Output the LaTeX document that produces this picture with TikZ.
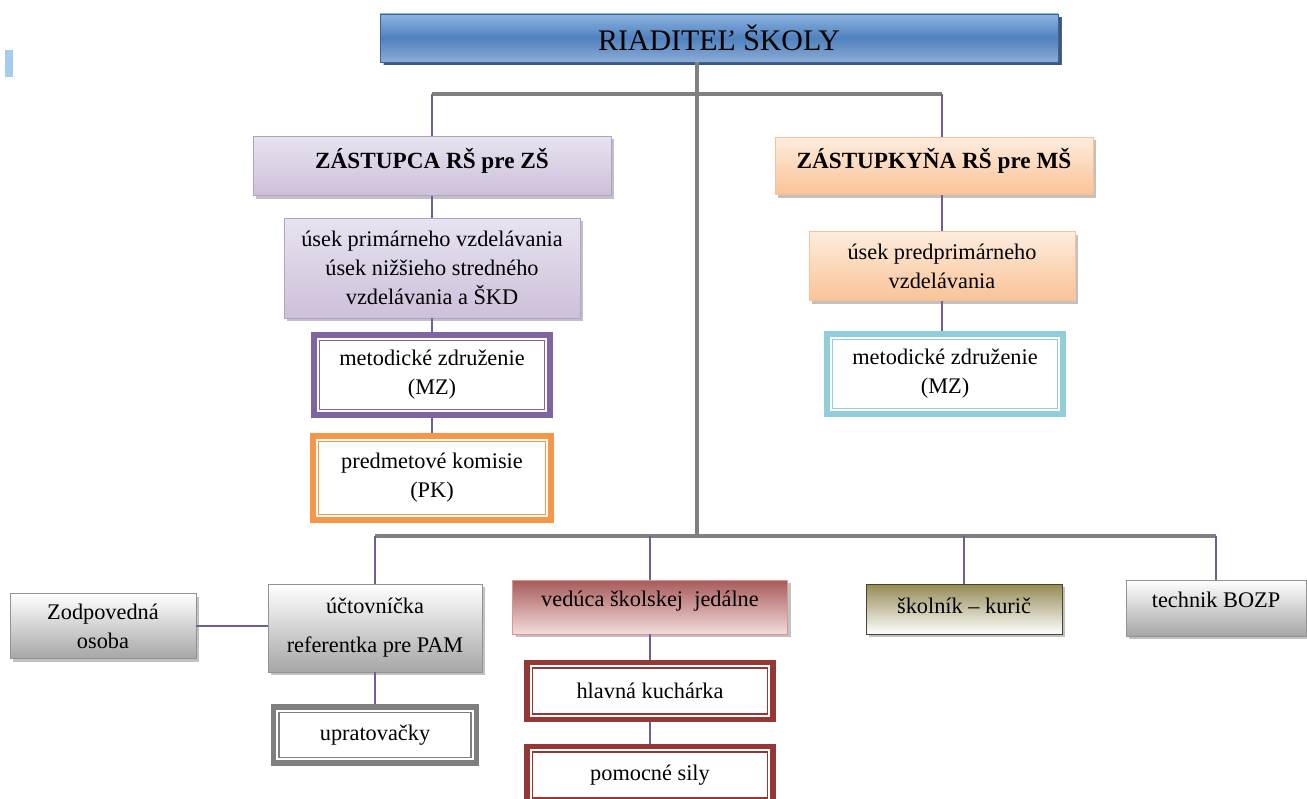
\documentclass[tikz,border=0pt]{standalone}
\usepackage{fontspec}
\setmainfont{Liberation Serif}
\usetikzlibrary{shadows}
\definecolor{smallblue}{HTML}{A6CBF0}
\definecolor{linegray}{HTML}{808080}
\definecolor{linkpurple}{HTML}{725D96}
\definecolor{mzpurple}{HTML}{8064A2}
\definecolor{pkorange}{HTML}{F79646}
\definecolor{mzblue}{HTML}{92CDDC}
\definecolor{uprgray}{HTML}{7F7F7F}
\definecolor{kuchred}{HTML}{953735}
\tikzset{
  sz/.style 2 args={minimum width=#1*0.2mm, minimum height=#2*0.2mm},
  box/.style={rectangle, align=center, inner sep=0pt,
    font=\fontsize{12.7}{16.5}\selectfont,
    drop shadow={shadow xshift=0.6mm, shadow yshift=-0.6mm, opacity=0.35, fill=black!70}},
  dbl/.style={rectangle, align=center, inner sep=0pt, fill=white,
    font=\fontsize{12.7}{16.5}\selectfont, draw=#1, line width=1.1mm,
    path picture={\draw[#1, line width=0.25mm]
      ([shift={(1.1mm,-1.1mm)}]path picture bounding box.north west) rectangle
      ([shift={(-1.1mm,1.1mm)}]path picture bounding box.south east);}},
  graybox/.style={box, draw=gray!85, top color=white, bottom color=black!35},
  grayline/.style={draw=linegray, line width=0.65mm},
  link/.style={draw=linkpurple, line width=0.45mm},
}
\begin{document}
\begin{tikzpicture}[x=0.2mm, y=-0.2mm]
  \useasboundingbox (0,0) rectangle (1307,798);
  \fill[smallblue] (5,50) rectangle (13,77);
  \coordinate (hubtop) at (697,94);
  \coordinate (hubbot) at (697,536);

  \node[box, sz={678}{48}, draw={rgb,255:red,58;green,100;blue,160},
        top color={rgb,255:red,141;green,179;blue,226}, bottom color={rgb,255:red,140;green,172;blue,214},
        middle color={rgb,255:red,79;green,129;blue,189},
        drop shadow={shadow xshift=0.7mm, shadow yshift=-0.7mm, opacity=0.8, fill={rgb,255:red,35;green,60;blue,100}},
        font=\fontsize{17}{19}\selectfont] (title) at (719,38) {RIADITEĽ ŠKOLY};

  \node[box, sz={358}{59}, draw={rgb,255:red,179;green,162;blue,199}, top color={rgb,255:red,232;green,227;blue,240},
        bottom color={rgb,255:red,204;green,192;blue,218}, font=\fontsize{13.2}{16}\selectfont\bfseries,
        text depth=3.2mm] (zs) at (432,166) {ZÁSTUPCA RŠ pre ZŠ};
  \node[box, sz={296}{100}, draw={rgb,255:red,179;green,162;blue,199}, top color={rgb,255:red,232;green,227;blue,240},
        bottom color={rgb,255:red,204;green,192;blue,218}] (prim) at (432,268)
        {úsek primárneho vzdelávania\\úsek nižšieho stredného\\vzdelávania a ŠKD};
  \node[dbl=mzpurple, sz={236}{80}] (mzl) at (432,375) {metodické združenie\\(MZ)};
  \node[dbl=pkorange, sz={238}{84}] (pk) at (432,478) {predmetové komisie\\(PK)};

  \node[box, sz={318}{57}, draw={rgb,255:red,249;green,192;blue,150}, top color={rgb,255:red,253;green,236;blue,222},
        bottom color={rgb,255:red,250;green,195;blue,150}, font=\fontsize{13.2}{16}\selectfont\bfseries,
        text depth=3.2mm] (ms) at (934,166) {ZÁSTUPKYŇA RŠ pre MŠ};
  \node[box, sz={266}{69}, draw={rgb,255:red,249;green,192;blue,150}, top color={rgb,255:red,253;green,236;blue,222},
        bottom color={rgb,255:red,250;green,195;blue,150}] (pred) at (942,266)
        {úsek predprimárneho\\vzdelávania};
  \node[dbl=mzblue, sz={236}{80}] (mzr) at (945,374) {metodické združenie\\(MZ)};

  \node[graybox, sz={186}{65}] (zod) at (103,626) {Zodpovedná\\osoba};
  \node[graybox, sz={214}{88}] (ucto) at (375,628) {účtovníčka\\[2mm]referentka pre PAM};
  \node[dbl=uprgray, sz={203}{56}] (upr) at (375,735) {upratovačky};
  \node[box, sz={275}{54}, draw={rgb,255:red,217;green,150;blue,148}, top color={rgb,255:red,168;green,90;blue,90},
        bottom color={rgb,255:red,242;green,220;blue,219}, text depth=3.2mm] (ved) at (650,607)
        {vedúca školskej\ \ jedálne};
  \node[dbl=kuchred, sz={246}{57}] (hk) at (650,691) {hlavná kuchárka};
  \node[dbl=kuchred, sz={246}{57}] (ps) at (650,775) {pomocné sily};
  \node[box, sz={196}{50}, draw={rgb,255:red,74;green,69;blue,42}, top color={rgb,255:red,148;green,138;blue,84},
        bottom color=white, text depth=1.2mm] (skol) at (964,609) {školník – kurič};
  \node[graybox, sz={180}{56}, text depth=3.2mm] (tech) at (1216,608) {technik BOZP};

  \draw[grayline, line width=0.8mm] (title.south -| hubbot) -- (hubbot);
  \draw[grayline] (zs.north |- hubtop) -- (pred.north |- hubtop);
  \draw[link] (zs.north |- hubtop) -- (zs.north);
  \draw[link] (pred.north |- hubtop) -- (pred.north |- ms.north);
  \draw[link] (zs.south) -- (prim.north);
  \draw[link] (prim.south) -- (mzl.north);
  \draw[link] (mzl.south) -- (pk.north);
  \draw[link] (pred.north |- ms.south) -- (pred.north);
  \draw[link] (pred.south) -- (pred.south |- mzr.north);
  \draw[grayline] (ucto.north |- hubbot) -- (tech.north |- hubbot);
  \foreach \n in {ucto,ved,skol,tech}
    \draw[link] (\n.north) -- (\n.north |- hubbot);
  \draw[link] (zod.east) -- (zod.east -| ucto.west);
  \draw[link] (ucto.south) -- (upr.north);
  \draw[link] (ved.south) -- (hk.north);
  \draw[link] (hk.south) -- (ps.north);
\end{tikzpicture}
\end{document}
